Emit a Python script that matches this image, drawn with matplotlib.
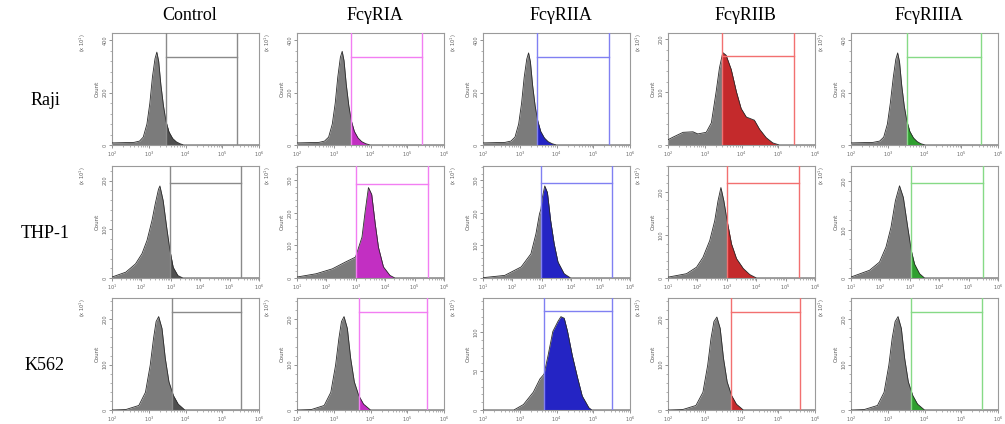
import numpy as np
import matplotlib
matplotlib.use('Agg')
import matplotlib.pyplot as plt
from matplotlib.patches import Rectangle
from matplotlib.ticker import LogLocator, MultipleLocator, NullFormatter, FixedLocator

COLUMNS = ['Control', 'FcγRIA', 'FcγRIIA', 'FcγRIIB', 'FcγRIIIA']
ROWS = ['Raji', 'THP-1', 'K562']

# ---- histogram readings: log10(fluorescence) and count (x10^1) ----
RAJI_CONTROL_LOG = [2.0, 2.3, 2.6, 2.75, 2.85, 2.95, 3.03, 3.1, 3.17, 3.22, 3.27, 3.33, 3.4, 3.47, 3.55, 3.65, 3.75, 3.85, 3.95, 6.0]
RAJI_CONTROL_CNT = [8, 9, 10, 15, 30, 80, 160, 260, 330, 355, 320, 230, 150, 90, 50, 25, 12, 5, 0, 0]
RAJI_RIA_LOG = [2.0, 2.3, 2.6, 2.75, 2.86, 2.96, 3.04, 3.11, 3.18, 3.23, 3.28, 3.34, 3.41, 3.48, 3.56, 3.66, 3.76, 3.87, 3.99, 6.0]
RAJI_RIA_CNT = [8, 9, 10, 15, 30, 80, 160, 260, 335, 358, 322, 232, 150, 92, 52, 27, 13, 5, 0, 0]
RAJI_RIIA_LOG = [2.0, 2.3, 2.6, 2.76, 2.87, 2.97, 3.05, 3.12, 3.19, 3.24, 3.29, 3.35, 3.42, 3.49, 3.57, 3.67, 3.77, 3.88, 4.0, 6.0]
RAJI_RIIA_CNT = [8, 9, 10, 15, 30, 80, 160, 258, 328, 352, 318, 228, 148, 92, 52, 27, 13, 5, 0, 0]
RAJI_RIIB_LOG = [2.0, 2.14, 2.41, 2.68, 2.81, 3.04, 3.18, 3.31, 3.40, 3.49, 3.58, 3.72, 3.86, 3.99, 4.13, 4.35, 4.49, 4.67, 4.85, 5.03, 6.0]
RAJI_RIIB_CNT = [10, 15, 24, 25, 21, 24, 42, 101, 146, 175, 170, 143, 101, 69, 53, 47, 30, 14, 4, 0, 0]
RAJI_RIIIA_LOG = [2.0, 2.3, 2.6, 2.78, 2.89, 2.99, 3.07, 3.15, 3.22, 3.27, 3.32, 3.38, 3.45, 3.52, 3.6, 3.7, 3.8, 3.9, 4.02, 6.0]
RAJI_RIIIA_CNT = [8, 9, 10, 15, 30, 80, 160, 258, 328, 352, 318, 228, 148, 92, 52, 27, 13, 5, 0, 0]

THP1_CONTROL_LOG = [1.0, 1.47, 1.8, 2.02, 2.19, 2.36, 2.47, 2.58, 2.63, 2.74, 2.86, 2.97, 3.08, 3.24, 3.41, 6.0]
THP1_CONTROL_CNT = [2, 12, 29, 50, 77, 118, 152, 182, 189, 159, 104, 57, 22, 5, 0, 0]
THP1_RIA_LOG = [1.0, 1.65, 2.2, 2.65, 2.99, 3.21, 3.32, 3.43, 3.54, 3.66, 3.77, 3.94, 4.16, 4.33, 6.0]
THP1_RIA_CNT = [3, 13, 28, 49, 64, 125, 205, 277, 256, 166, 94, 34, 8, 0, 0]
THP1_RIIA_LOG = [1.0, 1.74, 2.3, 2.63, 2.8, 2.92, 2.97, 3.02, 3.1, 3.19, 3.3, 3.42, 3.55, 3.76, 3.98, 6.0]
THP1_RIIA_CNT = [1, 8, 34, 74, 135, 196, 211, 247, 282, 262, 176, 105, 49, 13, 0, 0]
THP1_RIIB_LOG = [1.0, 1.63, 1.97, 2.19, 2.42, 2.59, 2.7, 2.8, 2.9, 3.01, 3.16, 3.33, 3.56, 3.78, 4.01, 6.0]
THP1_RIIB_CNT = [2, 10, 25, 48, 87, 133, 179, 210, 179, 133, 79, 45, 22, 8, 0, 0]
THP1_RIIIA_LOG = [1.0, 1.63, 1.97, 2.19, 2.36, 2.51, 2.65, 2.78, 2.93, 3.05, 3.16, 3.33, 3.5, 6.0]
THP1_RIIIA_CNT = [2, 16, 33, 64, 105, 160, 191, 167, 105, 57, 29, 9, 0, 0]

K562_CONTROL_LOG = [2.0, 2.375, 2.73, 2.91, 3.04, 3.13, 3.2, 3.27, 3.36, 3.45, 3.55, 3.67, 3.8, 3.98, 6.0]
K562_CONTROL_CNT = [0, 1, 10, 39, 99, 158, 195, 206, 180, 114, 62, 32, 13, 0, 0]
K562_RIA_LOG = [2.0, 2.39, 2.74, 2.92, 3.05, 3.14, 3.21, 3.28, 3.37, 3.46, 3.56, 3.68, 3.81, 4.0, 6.0]
K562_RIA_CNT = [0, 1, 10, 39, 99, 158, 195, 206, 180, 114, 62, 32, 13, 0, 0]
K562_RIIA_LOG = [2.0, 2.84, 3.1, 3.37, 3.55, 3.66, 3.77, 3.9, 4.04, 4.12, 4.21, 4.3, 4.43, 4.57, 4.7, 4.88, 4.96, 6.0]
K562_RIIA_CNT = [0, 0, 7, 23, 40, 46, 70, 101, 114, 120, 118, 101, 70, 42, 18, 3, 0, 0]
K562_RIIB_LOG = [2.0, 2.4, 2.76, 2.95, 3.08, 3.17, 3.25, 3.33, 3.42, 3.51, 3.61, 3.73, 3.86, 4.05, 6.0]
K562_RIIB_CNT = [0, 1, 10, 39, 99, 158, 195, 205, 180, 114, 62, 32, 13, 0, 0]
K562_RIIIA_LOG = [2.0, 2.36, 2.72, 2.9, 3.03, 3.12, 3.2, 3.28, 3.37, 3.46, 3.56, 3.68, 3.81, 4.0, 6.0]
K562_RIIIA_CNT = [0, 1, 10, 39, 99, 158, 195, 206, 180, 114, 62, 32, 13, 0, 0]

# gates: low edge, high edge (log10) and level (count)
GATE_LOW = [[3.47, 3.47, 3.48, 3.47, 3.53],
            [2.97, 2.99, 2.97, 3.01, 3.05],
            [3.64, 3.68, 3.66, 3.71, 3.63]]
GATE_HIGH = [[5.39, 5.39, 5.44, 5.42, 5.54],
             [5.39, 5.44, 5.38, 5.47, 5.49],
             [5.50, 5.54, 5.50, 5.59, 5.56]]
GATE_LEVEL = [[337, 337, 337, 169, 337],
              [195, 289, 290, 220, 196],
              [216, 216, 127, 216, 216]]
Y_MAX = [[428, 428, 428, 212, 428],
         [230, 343, 343, 260, 232],
         [247, 247, 144, 247, 247]]
Y_STEP = [[200, 200, 200, 100, 200],
          [100, 100, 100, 100, 100],
          [100, 100, 50, 100, 100]]
X_DECADES = [(2, 6), (1, 6), (2, 6)]

HISTS = [
    [(RAJI_CONTROL_LOG, RAJI_CONTROL_CNT), (RAJI_RIA_LOG, RAJI_RIA_CNT), (RAJI_RIIA_LOG, RAJI_RIIA_CNT),
     (RAJI_RIIB_LOG, RAJI_RIIB_CNT), (RAJI_RIIIA_LOG, RAJI_RIIIA_CNT)],
    [(THP1_CONTROL_LOG, THP1_CONTROL_CNT), (THP1_RIA_LOG, THP1_RIA_CNT), (THP1_RIIA_LOG, THP1_RIIA_CNT),
     (THP1_RIIB_LOG, THP1_RIIB_CNT), (THP1_RIIIA_LOG, THP1_RIIIA_CNT)],
    [(K562_CONTROL_LOG, K562_CONTROL_CNT), (K562_RIA_LOG, K562_RIA_CNT), (K562_RIIA_LOG, K562_RIIA_CNT),
     (K562_RIIB_LOG, K562_RIIB_CNT), (K562_RIIIA_LOG, K562_RIIIA_CNT)],
]

FILL_COLORS = ['#4f4f4f', '#c22fc2', '#2424c4', '#c42a2c', '#2f9f2f']
GATE_COLORS = ['#8a8a8a', '#f27ef2', '#8080f2', '#f27070', '#86da86']

W, H = 1005, 424
fig = plt.figure(figsize=(W / 100, H / 100), dpi=100)
fig.patch.set_facecolor('white')

col_left = [112, 297, 483, 668, 851]
row_top = [33, 166, 298]
pw, ph = 147, 112

serif = ['Liberation Serif', 'DejaVu Serif']

for c, name in enumerate(COLUMNS):
    fig.text((col_left[c] + pw / 2 + 4) / W, 1 - 16 / H, name, ha='center', va='center',
             fontsize=13, family=serif)
for r, name in enumerate(ROWS):
    fig.text(45 / W, 1 - (row_top[r] + ph * 0.6) / H, name, ha='center', va='center',
             fontsize=13, family=serif)

for r in range(3):
    for c in range(5):
        ax = fig.add_axes([col_left[c] / W, 1 - (row_top[r] + ph) / H, pw / W, ph / H])
        lg, cnt = HISTS[r][c]
        x = 10 ** np.asarray(lg, dtype=float)
        y = np.asarray(cnt, dtype=float)
        ax.fill_between(x, 0, y, color='#7b7b7b', lw=0, zorder=1)
        colored = ax.fill_between(x, 0, y, color=FILL_COLORS[c], lw=0, zorder=2)
        clip = Rectangle((10 ** GATE_LOW[r][c], 0), 10 ** 7, 10000, transform=ax.transData)
        colored.set_clip_path(clip)
        ax.plot(x, y, color='#2a2a2a', lw=0.6, zorder=3)
        gl, gh, gy = 10 ** GATE_LOW[r][c], 10 ** GATE_HIGH[r][c], GATE_LEVEL[r][c]
        ax.axvline(gl, color=GATE_COLORS[c], lw=1.0, zorder=4)
        ax.axvline(gh, color=GATE_COLORS[c], lw=1.0, zorder=4)
        ax.plot([gl, gh], [gy, gy], color=GATE_COLORS[c], lw=1.0, zorder=4)

        d0, d1 = X_DECADES[r]
        ax.set_xscale('log')
        ax.set_xlim(10 ** d0, 10 ** d1)
        ax.set_ylim(0, Y_MAX[r][c])
        ax.xaxis.set_major_locator(FixedLocator([10.0 ** k for k in range(d0, d1 + 1)]))
        ax.set_xticklabels([r'$10^{%d}$' % k for k in range(d0, d1 + 1)])
        ax.xaxis.set_minor_locator(LogLocator(base=10, subs=np.arange(2, 10), numticks=20))
        ax.xaxis.set_minor_formatter(NullFormatter())
        step = Y_STEP[r][c]
        ax.yaxis.set_major_locator(MultipleLocator(step))
        ax.yaxis.set_minor_locator(MultipleLocator(step / 5))
        ax.tick_params(axis='both', which='major', labelsize=3.6, length=2.2, width=0.5,
                       colors='#666666', pad=1.2)
        ax.tick_params(axis='both', which='minor', length=1.2, width=0.4, colors='#777777')
        ax.tick_params(axis='y', labelrotation=90)
        for lab in ax.get_yticklabels():
            lab.set_va('center')
        ax.set_ylabel('Count', fontsize=4, color='#555555', labelpad=1.5)
        ax.text(-0.2, 1.0, r'(x $10^1$)', transform=ax.transAxes, rotation=90,
                fontsize=3.6, color='#555555', ha='center', va='top')
        for s in ax.spines.values():
            s.set_color('#9a9a9a')
            s.set_linewidth(0.8)

fig.savefig('out.png', dpi=100, facecolor='white')
